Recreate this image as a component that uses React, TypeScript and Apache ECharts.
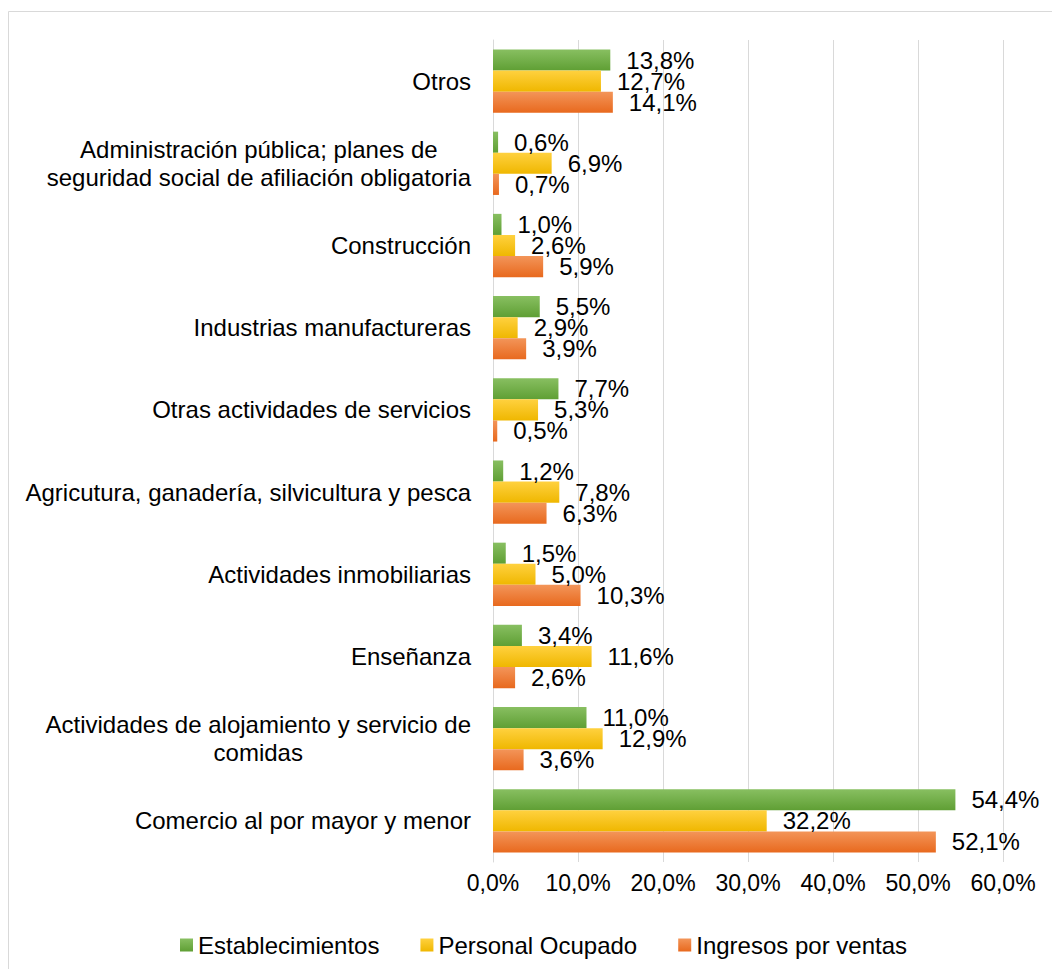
import React, { useEffect, useRef } from "react";
import * as echarts from "echarts";

const categories = [
  "Comercio al por mayor y menor",
  "Actividades de alojamiento y servicio de\ncomidas",
  "Enseñanza",
  "Actividades inmobiliarias",
  "Agricutura, ganadería, silvicultura y pesca",
  "Otras actividades de servicios",
  "Industrias manufactureras",
  "Construcción",
  "Administración pública; planes de\nseguridad social de afiliación obligatoria",
  "Otros",
];

const establecimientos = [54.4, 11.0, 3.4, 1.5, 1.2, 7.7, 5.5, 1.0, 0.6, 13.8];
const personalOcupado = [32.2, 12.9, 11.6, 5.0, 7.8, 5.3, 2.9, 2.6, 6.9, 12.7];
const ingresosVentas = [52.1, 3.6, 2.6, 10.3, 6.3, 0.5, 3.9, 5.9, 0.7, 14.1];

const seriesNames = ["Establecimientos", "Personal Ocupado", "Ingresos por ventas"];

const FONT = "'Liberation Sans', Arial, sans-serif";

const grad = (top: string, bottom: string) =>
  new echarts.graphic.LinearGradient(0, 0, 0, 1, [
    { offset: 0, color: top },
    { offset: 1, color: bottom },
  ]);

const fmt = (v: number) => v.toFixed(1).replace(".", ",") + "%";

export default function App() {
  const ref = useRef<HTMLDivElement>(null);
  useEffect(() => {
    if (!ref.current) return;
    const chart = echarts.init(ref.current, undefined, { renderer: "svg" });
    const colors = [
      grad("#88bf61", "#5f9f34"),
      grad("#ffd13f", "#efb700"),
      grad("#f39559", "#e8691e"),
    ];
    const data = [establecimientos, personalOcupado, ingresosVentas];
    chart.setOption({
      animation: false,
      backgroundColor: "#fff",
      textStyle: { fontFamily: FONT },
      graphic: [
        {
          type: "rect",
          shape: { x: 8.5, y: 11.5, width: 1100, height: 1000 },
          style: { fill: "none", stroke: "#d9d9d9", lineWidth: 1 },
          silent: true,
        },
      ],
      grid: { left: 493, right: 49, top: 40, bottom: 107 },
      legend: {
        data: seriesNames,
        left: 175,
        top: 928,
        icon: "rect",
        itemWidth: 13,
        itemHeight: 13,
        itemGap: 41,
        textStyle: { fontSize: 24, color: "#000", fontFamily: FONT },
      },
      xAxis: {
        type: "value",
        min: 0,
        max: 60,
        interval: 10,
        axisLine: { show: false },
        axisTick: { show: false },
        splitLine: { show: true, lineStyle: { color: "#d9d9d9", width: 1 } },
        axisLabel: {
          formatter: (v: number) => fmt(v),
          fontSize: 23,
          color: "#000",
          margin: 9,
          fontFamily: FONT,
        },
      },
      yAxis: {
        type: "category",
        data: categories,
        axisLine: { show: true, lineStyle: { color: "#d9d9d9", width: 1 } },
        axisTick: { show: false },
        axisLabel: {
          margin: 22,
          color: "#000",
          formatter: (v: string) =>
            v
              .split("\n")
              .map((l) => `{c|${l}}`)
              .join("\n"),
          rich: {
            c: {
              fontSize: 24,
              lineHeight: 28,
              align: "center",
              color: "#000",
              fontFamily: FONT,
            },
          },
        },
      },
      series: seriesNames.map((name, i) => ({
        name,
        type: "bar",
        data: data[i],
        barGap: "0%",
        barCategoryGap: "23%",
        itemStyle: { color: colors[i] },
        label: {
          show: true,
          position: "right",
          distance: 16,
          formatter: (p: any) => fmt(p.value),
          fontSize: 24,
          color: "#000",
          fontFamily: FONT,
        },
      })),
    });
    return () => chart.dispose();
  }, []);
  return (
    <div
      ref={ref}
      style={{ position: "fixed", left: 0, top: 0, width: 1052, height: 969 }}
    />
  );
}
